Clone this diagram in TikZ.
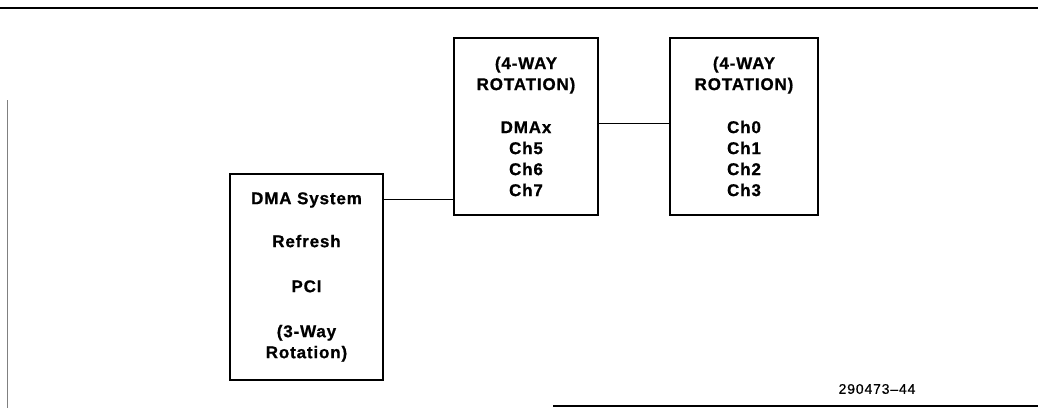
\documentclass[tikz,border=0pt]{standalone}
\usepackage{fontspec}
\setmainfont{Liberation Sans}[BoldFont={Liberation Sans Bold}]
\newfontfamily\boxfont{Liberation Sans Bold}[LetterSpace=5,FakeBold=0.8]
\newfontfamily\idfont{Liberation Sans}[LetterSpace=6,FakeBold=0.5]
\begin{document}
\begin{tikzpicture}[x=1pt,y=-1pt,
  blk/.style={draw,line width=1.3pt,align=center,inner sep=0pt,
    font=\boxfont\fontsize{17}{21}\selectfont},
  link/.style={draw,line width=0.9pt},
  frame/.style={line width=1.1pt}]
\useasboundingbox (0,0) rectangle (1038,408);
\draw[frame,line width=1.6pt] (0,8) -- (1038,8);
\draw[frame,line width=0.8pt,gray] (7,100) -- (7,408);
\draw[frame] (553,406) -- (1038,406);

\node[blk,minimum width=153pt,minimum height=206pt] (b1) at (306.5,277)
  {DMA System\\[22pt]Refresh\\[24pt]PCI\\[24pt](3-Way\\Rotation)};
\node[blk,minimum width=144pt,minimum height=177pt] (b2) at (526,126.5)
  {(4-WAY\\ROTATION)\\[22pt]DMAx\\Ch5\\Ch6\\Ch7};
\node[blk,minimum width=148pt,minimum height=177pt] (b3) at (744,126.5)
  {(4-WAY\\ROTATION)\\[22pt]Ch0\\Ch1\\Ch2\\Ch3};

\coordinate (j1) at (400,199);
\draw[link] (b1.east |- j1) -- (b2.west |- j1);
\coordinate (j2) at (620,123);
\draw[link] (b2.east |- j2) -- (b3.west |- j2);

\node[font=\idfont\fontsize{14}{16}\selectfont] (id) at (877,389) {290473–44};
\end{tikzpicture}
\end{document}
